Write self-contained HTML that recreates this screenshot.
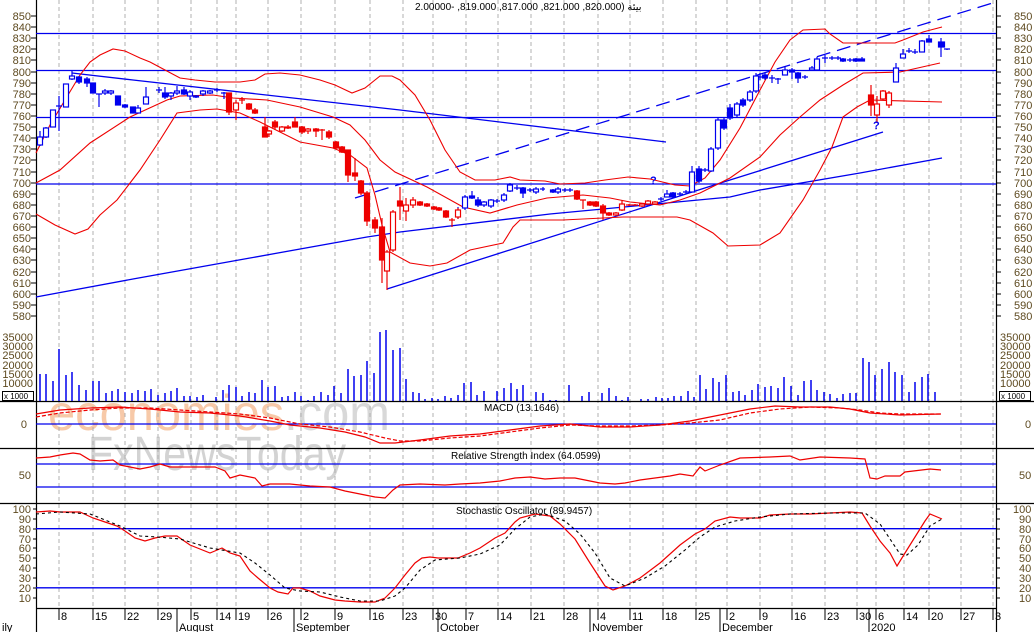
<!DOCTYPE html>
<html><head><meta charset="utf-8"><style>
html,body{margin:0;padding:0;background:#fff;}
svg{display:block;font-family:"Liberation Sans","DejaVu Sans",sans-serif;}
.ax{font-size:11px;fill:#5e4a20;}
.t{font-size:10px;fill:#000;}
</style></head><body>
<svg width="1034" height="632" viewBox="0 0 1034 632" xmlns="http://www.w3.org/2000/svg">
<rect width="1034" height="632" fill="#fff"/>
<!-- watermark -->
<text x="48" y="430" font-size="50" textLength="342" lengthAdjust="spacingAndGlyphs" fill="#f7c9a8"><tspan>economies</tspan><tspan fill="#d8d8d8">.com</tspan></text>
<text x="88" y="470" font-size="48" textLength="258" lengthAdjust="spacingAndGlyphs" fill="#d3d3d3">FxNewsToday</text>
<!-- grid -->
<g stroke="#b0b0b0" stroke-dasharray="4,3" stroke-width="1">
<path d="M59 0V609M93 0V609M125 0V609M158 0V609M191 0V609M217 0V609M236 0V609M268 0V609M301 0V609M335 0V609M370 0V609M403 0V609M433 0V609M466 0V609M498 0V609M531 0V609M564 0V609M598 0V609M630 0V609M663 0V609M696 0V609M727 0V609M760 0V609M792 0V609M825 0V609M857 0V609M876 0V609M904 0V609M929 0V609M961 0V609M993 0V609"/>
</g>
<!-- panel separators -->
<g stroke="#000" stroke-width="1.2">
<path d="M0 401.5H1034M0 448.5H1034M0 503.5H1034M36 608.5H996M36.5 0V632M996.5 0V632"/>
</g>
<!-- horizontal blue lines price -->
<g stroke="#0000ee" stroke-width="1.3" fill="none">
<path d="M36 33.5H996M36 70.5H996M36 117.5H996M36 184H996"/>
<path d="M36 424H996M36 464H996M36 487H996M36 528.7H996M36 587.8H996"/>
<polyline points="72,73 133,80 400,110 666,142"/>
<polyline points="36,297 133,279 250,258 367,237 400,232 550,214 730,197 760,190 860,173 942,158"/>
<polyline points="387,289 730,180 883,132"/>
<line x1="355" y1="198" x2="996" y2="2" stroke-dasharray="14,7"/>
</g>
<!-- bollinger -->
<g stroke="#ee0000" stroke-width="1.1" fill="none">
<polyline points="36,153 50,125 65,100 80,75 90,62 100,55 113,49 125,51 140,58 150,62 165,70 180,78 195,80 215,82 240,82 255,80 265,74 280,73 300,75 320,80 335,85 352,93 365,88 380,76 392,76 400,80 415,95 430,120 445,150 460,172 475,180 495,180 510,177 520,180 545,181 560,184 585,183 605,180 628,177 650,179 675,185 690,186 705,178 720,160 740,128 760,90 775,62 790,40 803,30 825,29 830,34 843,43 895,43 903,40 923,32 942,27"/>
<polyline points="36,183 60,170 90,143 130,117 167,100 180,96 213,95 233,98 267,100 300,107 333,117 350,125 365,140 380,160 395,172 427,187 463,207 490,213 517,205 547,198 583,195 610,198 630,202 660,205 680,200 700,193 730,178 760,157 780,135 800,117 820,100 843,85 863,73 900,72 940,63"/>
<polyline points="36,214 55,225 75,234 88,229 100,215 117,200 140,170 160,140 177,113 200,110 217,109 240,113 260,122 300,142 333,148 350,155 367,168 375,195 382,225 390,252 410,263 430,266 447,263 470,250 503,243 513,227 520,220 563,220 623,217 677,217 690,220 713,233 728,246 760,245 780,233 803,200 820,170 832,147 843,117 857,107 870,100 942,102"/>
</g>
<!-- blue candles -->
<g stroke="#0000ee" stroke-width="1.2">
<path d="M40 131V146M46 127V138M53 110V127M59 96V131M66 84V107M72 71V80M79 76V84M87 77V87M93 83V93M99 94V107M105 89V95M111 90V95M118 96V105M125 104V108M133 107V113M138 105V113M146 87V104M159 87V93M165 87V99M171 92V100M177 86V95M184 87V95M190 90V100M196 95V98M203 90V96M210 90V94M217 88V92M224 92V99M458 207V219M465 195V210M472 191V199M478 197V207M484 201V207M491 199V208M497 199V203M504 193V202M510 183V192M517 185V190M523 187V198M530 188V192M536 187V194M543 187V191M553 189V193M558 187V194M565 188V192M570 188V192M661 197V201M667 190V197M673 192V198M680 192V196M686 190V194M692 166V192M699 166V183M705 168V172M711 147V172M718 118V150M724 118V130M730 104V120M737 102V117M743 98V107M750 90V102M756 73V93M760 73V80M765 73V80M772 75V83M778 78V84M785 66V75M792 68V79M798 72V83M805 75V79M812 66V71M817 57V70M825 55V63M832 56V60M838 56V60M843 58V62M850 58V62M856 58V62M862 57V61M896 63V82M903 49V58M909 48V53M915 49V54M922 40V52M929 35V42M941 38V57M947 49V50"/>
<path d="M56 106H62M96 94H102M156 90H162M214 90H220M221 93H227M494 201H500M514 188H520M527 190H533M540 189H545M562 190H568M567 190H573M658 199H664M677 194H683M683 192H689M702 170H708M757 77H763M769 78H775M775 79H781M802 77H808M822 58H828M829 58H835M835 58H841M847 60H853M906 51H912M912 52H918M944 49H950"/>
<g fill="#fff">
<rect x="37.5" y="137" width="5" height="8"/><rect x="43.5" y="128" width="5" height="9"/><rect x="50.5" y="110" width="5" height="17"/><rect x="63.5" y="84" width="5" height="23"/><rect x="69.5" y="76" width="5" height="3"/><rect x="102.5" y="91" width="5" height="2"/><rect x="108.5" y="91" width="5" height="2"/><rect x="135.5" y="108" width="5" height="5"/><rect x="143.5" y="97" width="5" height="7"/><rect x="168.5" y="93" width="5" height="3"/><rect x="174.5" y="91" width="5" height="2"/><rect x="187.5" y="92" width="5" height="4"/><rect x="193.5" y="96" width="5" height="1"/><rect x="200.5" y="91" width="5" height="3"/><rect x="207.5" y="91" width="5" height="2"/>
<rect x="462.5" y="197" width="5" height="11"/><rect x="481.5" y="202" width="5" height="3"/><rect x="488.5" y="200" width="5" height="6"/><rect x="501.5" y="195" width="5" height="5"/><rect x="507.5" y="185" width="5" height="6"/><rect x="533.5" y="189" width="5" height="3"/><rect x="555.5" y="189" width="5" height="3"/><rect x="664.5" y="194" width="5" height="3"/><rect x="689.5" y="172" width="5" height="20"/><rect x="708.5" y="149" width="5" height="22"/><rect x="715.5" y="120" width="5" height="28"/><rect x="734.5" y="104" width="5" height="11"/><rect x="747.5" y="92" width="5" height="8"/><rect x="753.5" y="76" width="5" height="15"/><rect x="782.5" y="70" width="5" height="5"/><rect x="809.5" y="68" width="5" height="2"/><rect x="814.5" y="59" width="5" height="11"/><rect x="893.5" y="68" width="5" height="14"/><rect x="900.5" y="54" width="5" height="4"/><rect x="919.5" y="41" width="5" height="11"/>
</g>
<g fill="#0000ee">
<rect x="76.5" y="77" width="5" height="5"/><rect x="84.5" y="79" width="5" height="4"/><rect x="90.5" y="83" width="5" height="10"/><rect x="115.5" y="96" width="5" height="9"/><rect x="122.5" y="105" width="5" height="2"/><rect x="130.5" y="107" width="5" height="6"/><rect x="162.5" y="93" width="5" height="4"/><rect x="181.5" y="90" width="5" height="4"/>
<rect x="469.5" y="196" width="5" height="2"/><rect x="475.5" y="200" width="5" height="5"/><rect x="520.5" y="188" width="5" height="5"/><rect x="550.5" y="190" width="5" height="2"/><rect x="670.5" y="193" width="5" height="4"/><rect x="696.5" y="169" width="5" height="12"/><rect x="721.5" y="120" width="5" height="8"/><rect x="727.5" y="108" width="5" height="10"/><rect x="740.5" y="100" width="5" height="5"/><rect x="762.5" y="75" width="5" height="3"/><rect x="789.5" y="70" width="5" height="2"/><rect x="795.5" y="73" width="5" height="5"/><rect x="840.5" y="59" width="5" height="2"/><rect x="853.5" y="59" width="5" height="2"/><rect x="859.5" y="59" width="5" height="2"/><rect x="926.5" y="39" width="5" height="3"/><rect x="938.5" y="42" width="6" height="5"/>
</g>
</g>
<!-- red candles -->
<g stroke="#ee0000" stroke-width="1.2">
<path d="M229 93V115M236 100V120M242 97V104M249 103V110M255 108V114M265 117V137M269 130V137M275 120V130M282 126V132M288 125V129M295 117V127M302 126V134M308 128V134M316 128V137M322 129V140M329 130V139M336 141V149M342 146V153M348 150V182M355 158V181M361 180V195M367 191V226M375 217V233M382 218V283M387 250V290M393 210V252M400 187V220M406 198V221M413 197V208M420 201V206M427 203V207M434 206V210M439 207V211M446 210V218M452 218V227M458 208V219M577 190V200M583 200V209M590 201V206M596 201V207M603 204V220M609 212V216M616 212V216M622 200V211M629 204V206M635 204V206M642 203V207M648 200V205M655 201V205M871 85V116M877 96V123M883 90V100M889 91V108"/>
<path d="M239 100H245M319 130H325M449 220H455M580 200H586M626 205H632M632 205H638"/>
<g fill="#ee0000">
<rect x="226.5" y="93" width="5" height="19"/><rect x="246.5" y="104" width="5" height="5"/><rect x="252.5" y="110" width="5" height="3"/><rect x="262.5" y="127" width="5" height="10"/><rect x="272.5" y="122" width="5" height="5"/><rect x="285.5" y="127" width="5" height="1"/><rect x="292.5" y="122" width="5" height="5"/><rect x="299.5" y="127" width="5" height="5"/><rect x="313.5" y="129" width="5" height="2"/><rect x="326.5" y="132" width="5" height="5"/><rect x="333.5" y="142" width="5" height="6"/><rect x="339.5" y="147" width="5" height="5"/><rect x="345.5" y="150" width="5" height="25"/><rect x="352.5" y="173" width="5" height="3"/><rect x="358.5" y="181" width="5" height="12"/><rect x="364.5" y="193" width="5" height="28"/><rect x="372.5" y="220" width="5" height="8"/><rect x="379.5" y="227" width="5" height="33"/><rect x="397.5" y="201" width="5" height="5"/><rect x="417.5" y="202" width="5" height="3"/><rect x="424.5" y="204" width="5" height="2"/><rect x="431.5" y="207" width="5" height="2"/><rect x="436.5" y="208" width="5" height="2"/><rect x="443.5" y="211" width="5" height="6"/><rect x="574.5" y="191" width="5" height="8"/><rect x="587.5" y="202" width="5" height="3"/><rect x="593.5" y="202" width="5" height="4"/><rect x="600.5" y="206" width="5" height="7"/><rect x="606.5" y="213" width="5" height="2"/><rect x="868.5" y="95" width="5" height="10"/>
</g>
<g fill="#fff">
<rect x="233.5" y="103" width="5" height="7"/><rect x="266.5" y="131" width="5" height="3"/><rect x="279.5" y="127" width="5" height="4"/><rect x="305.5" y="129" width="5" height="2"/><rect x="384.5" y="252" width="5" height="19"/><rect x="390.5" y="212" width="5" height="38"/><rect x="403.5" y="205" width="5" height="6"/><rect x="410.5" y="200" width="5" height="5"/><rect x="455.5" y="210" width="5" height="7"/><rect x="613.5" y="213" width="5" height="2"/><rect x="619.5" y="204" width="5" height="6"/><rect x="639.5" y="204" width="5" height="2"/><rect x="645.5" y="201" width="5" height="3"/><rect x="652.5" y="202" width="5" height="2"/><rect x="874.5" y="104" width="5" height="11"/><rect x="880.5" y="91" width="5" height="8"/><rect x="886.5" y="93" width="5" height="12"/>
</g>
</g>
<text x="650" y="184" font-size="11" font-weight="bold" fill="#0000ee">?</text>
<text x="873" y="129" font-size="11" font-weight="bold" fill="#0000ee">?</text>
<!-- volume -->
<path stroke="#0000ee" stroke-width="1.5" d="M40 401V374M46 401V374M53 401V381M59 401V349M66 401V375M72 401V372M79 401V385M86 401V390M93 401V381M99 401V381M106 401V393M112 401V391M118 401V389M125 401V392M132 401V393M138 401V390M145 401V391M151 401V389M158 401V395M165 401V393M171 401V391M177 401V388M184 401V396M190 401V396M197 401V397M203 401V395M216 401V397M223 401V390M229 401V385M236 401V387M242 401V396M249 401V392M255 401V393M262 401V380M268 401V387M275 401V386M282 401V397M288 401V396M295 401V392M301 401V396M308 401V400M314 401V396M321 401V392M328 401V395M334 401V386M341 401V393M348 401V369M354 401V376M361 401V375M367 401V361M374 401V373M380 401V332M386 401V330M393 401V350M400 401V348M406 401V379M413 401V392M419 401V393M425 401V399M432 401V398M438 401V399M445 401V396M451 401V398M458 401V395M464 401V383M471 401V382M477 401V395M484 401V391M497 401V391M504 401V388M511 401V383M517 401V389M523 401V385M536 401V392M543 401V393M550 401V400M556 401V400M569 401V385M582 401V396M589 401V392M602 401V393M609 401V388M616 401V396M622 401V400M628 401V397M641 401V399M648 401V399M656 401V397M662 401V398M668 401V398M674 401V396M681 401V396M688 401V391M694 401V397M700 401V375M706 401V389M713 401V378M719 401V382M726 401V375M733 401V392M739 401V391M745 401V395M752 401V390M758 401V384M765 401V387M771 401V386M778 401V388M784 401V377M791 401V386M798 401V395M804 401V381M811 401V380M817 401V390M824 401V392M830 401V394M837 401V398M843 401V394M850 401V393M856 401V393M863 401V358M869 401V362M875 401V375M882 401V369M889 401V362M895 401V372M902 401V375M909 401V392M915 401V382M922 401V377M928 401V374M935 401V392"/>
<!-- MACD -->
<g fill="none" stroke="#ee0000" stroke-width="1.2">
<polyline points="36,414 60,410 90,408 120,407 150,409 180,412 210,413 240,416 270,421 290,425 320,428 345,432 365,437 380,443 395,443 420,440 450,436 480,434 510,430 540,426 570,424 600,427 630,427 660,425 690,421 720,415 750,409 775,406 800,407 830,407 850,409 870,413 900,415 941,414"/>
<polyline stroke-dasharray="4,2" points="36,417 60,413 90,410 120,408 150,408 180,410 210,412 240,414 270,418 300,424 330,427 360,432 385,438 400,441 420,441 450,438 480,436 510,432 540,428 570,425 600,426 630,426 660,425 690,423 720,420 750,413 780,409 810,407 840,408 860,410 880,413 900,414 941,414"/>
<!-- RSI -->
<polyline points="36,458 50,457 60,455 73,453 80,454 90,460 100,461 113,460 120,465 130,467 140,469 150,467 160,464 170,467 190,467 215,467 225,471 230,478 240,475 255,478 262,486 270,484 290,484 310,486 330,487 345,491 360,494 375,497 385,498 393,490 400,485 420,484 445,485 460,484 480,483 500,481 515,478 530,477 545,479 560,478 575,478 590,481 600,483 615,484 625,483 640,480 655,478 670,476 680,474 693,476 700,467 705,471 720,465 740,458 770,457 790,456 800,460 820,457 850,458 865,459 870,478 877,479 885,476 900,476 905,472 930,469 941,470"/>
<!-- Stoch -->
<polyline points="36,512 50,511 60,512 80,512 93,518 105,522 117,526 125,531 135,538 145,541 155,538 165,536 177,536 190,545 210,553 222,548 230,553 240,556 250,571 258,578 270,588 278,592 288,594 293,588 300,588 310,591 320,596 335,600 345,601 360,602 375,602 385,598 395,588 405,575 415,563 422,558 430,557 438,558 458,558 470,553 480,548 495,538 505,533 515,522 520,518 535,514 550,516 560,524 575,539 590,563 605,586 613,590 625,586 640,578 660,563 680,545 695,534 705,529 715,521 730,517 740,518 760,518 770,515 790,514 810,514 830,513 850,512 862,513 870,526 880,541 890,553 897,566 905,553 915,537 925,521 930,514 942,519"/>
</g>
<polyline fill="none" stroke="#000" stroke-width="1.1" stroke-dasharray="3,3" points="36,514 60,512 90,514 120,526 140,536 158,537 180,539 210,548 240,553 255,563 270,575 285,588 300,591 320,592 340,597 360,601 380,601 395,596 405,588 420,570 435,560 460,558 480,554 500,545 515,529 530,517 545,514 565,521 580,534 595,553 610,578 625,586 645,578 665,566 685,550 700,537 715,527 735,521 760,517 790,514 830,513 865,513 880,524 890,539 900,554 907,555 918,545 930,526 942,519"/>
<!-- titles -->
<text x="415" y="10" class="t">2.00000- ,819.000 ,817.000 ,821.000 ,820.000) بيئة</text>
<text x="484" y="411" class="t">MACD (13.1646)</text>
<text x="451" y="459" class="t">Relative Strength Index (64.0599)</text>
<text x="456" y="514" class="t">Stochastic Oscillator (89.9457)</text>
<!-- axis ticks -->
<g stroke="#000" stroke-width="1">
<path d="M31 16H36M31 27H36M31 38H36M31 49H36M31 60H36M31 72H36M31 83H36M31 94H36M31 105H36M31 116H36M31 127H36M31 138H36M31 149H36M31 160H36M31 172H36M31 183H36M31 194H36M31 205H36M31 216H36M31 227H36M31 238H36M31 249H36M31 260H36M31 272H36M31 283H36M31 294H36M31 305H36M31 316H36"/>
<path d="M996 16H1001M996 27H1001M996 38H1001M996 49H1001M996 60H1001M996 72H1001M996 83H1001M996 94H1001M996 105H1001M996 116H1001M996 127H1001M996 138H1001M996 149H1001M996 160H1001M996 172H1001M996 183H1001M996 194H1001M996 205H1001M996 216H1001M996 227H1001M996 238H1001M996 249H1001M996 260H1001M996 272H1001M996 283H1001M996 294H1001M996 305H1001M996 316H1001"/>
<path d="M33 509H36M33 519H36M33 529H36M33 539H36M33 548H36M33 558H36M33 568H36M33 578H36M33 588H36M33 598H36M996 509H1000M996 519H1000M996 529H1000M996 539H1000M996 548H1000M996 558H1000M996 568H1000M996 578H1000M996 588H1000M996 598H1000"/>
<path d="M59 609V620M93 609V620M125 609V620M158 609V620M191 609V620M217 609V620M236 609V620M268 609V620M301 609V620M335 609V620M370 609V620M403 609V620M433 609V620M466 609V620M498 609V620M531 609V620M564 609V620M598 609V620M630 609V620M663 609V620M696 609V620M727 609V620M760 609V620M792 609V620M825 609V620M857 609V620M876 609V620M904 609V620M929 609V620M961 609V620M993 609V620"/>
<path d="M177 609V632M294 609V632M438 609V632M590 609V632M720 609V632M869 609V632"/>
</g>
<g class="ax" text-anchor="end">
<text x="31" y="20">850</text><text x="31" y="31">840</text><text x="31" y="42">830</text><text x="31" y="53">820</text><text x="31" y="64">810</text><text x="31" y="76">800</text><text x="31" y="87">790</text><text x="31" y="98">780</text><text x="31" y="109">770</text><text x="31" y="120">760</text><text x="31" y="131">750</text><text x="31" y="142">740</text><text x="31" y="153">730</text><text x="31" y="164">720</text><text x="31" y="176">710</text><text x="31" y="187">700</text><text x="31" y="198">690</text><text x="31" y="209">680</text><text x="31" y="220">670</text><text x="31" y="231">660</text><text x="31" y="242">650</text><text x="31" y="253">640</text><text x="31" y="264">630</text><text x="31" y="276">620</text><text x="31" y="287">610</text><text x="31" y="298">600</text><text x="31" y="309">590</text><text x="31" y="320">580</text>
<text x="33" y="341">35000</text><text x="33" y="350">30000</text><text x="33" y="359">25000</text><text x="33" y="369">20000</text><text x="33" y="378">15000</text><text x="33" y="387">10000</text>
<text x="27" y="428">0</text><text x="31" y="479">50</text>
<text x="31" y="513">100</text><text x="31" y="523">90</text><text x="31" y="533">80</text><text x="31" y="543">70</text><text x="31" y="552">60</text><text x="31" y="562">50</text><text x="31" y="572">40</text><text x="31" y="582">30</text><text x="31" y="592">20</text><text x="31" y="602">10</text>
</g>
<g class="ax">
<text x="1014" y="20">850</text><text x="1014" y="31">840</text><text x="1014" y="42">830</text><text x="1014" y="53">820</text><text x="1014" y="64">810</text><text x="1014" y="76">800</text><text x="1014" y="87">790</text><text x="1014" y="98">780</text><text x="1014" y="109">770</text><text x="1014" y="120">760</text><text x="1014" y="131">750</text><text x="1014" y="142">740</text><text x="1014" y="153">730</text><text x="1014" y="164">720</text><text x="1014" y="176">710</text><text x="1014" y="187">700</text><text x="1014" y="198">690</text><text x="1014" y="209">680</text><text x="1014" y="220">670</text><text x="1014" y="231">660</text><text x="1014" y="242">650</text><text x="1014" y="253">640</text><text x="1014" y="264">630</text><text x="1014" y="276">620</text><text x="1014" y="287">610</text><text x="1014" y="298">600</text><text x="1014" y="309">590</text><text x="1014" y="320">580</text>
<text x="1000" y="341">35000</text><text x="1000" y="350">30000</text><text x="1000" y="359">25000</text><text x="1000" y="369">20000</text><text x="1000" y="378">15000</text><text x="1000" y="387">10000</text>
<text x="1025" y="428">0</text><text x="1019" y="479">50</text>
<text x="1013" y="513">100</text><text x="1019" y="523">90</text><text x="1019" y="533">80</text><text x="1019" y="543">70</text><text x="1019" y="552">60</text><text x="1019" y="562">50</text><text x="1019" y="572">40</text><text x="1019" y="582">30</text><text x="1019" y="592">20</text><text x="1019" y="602">10</text>
</g>
<rect x="2.5" y="391.5" width="31" height="9" fill="#fff" stroke="#000"/>
<text x="4" y="399" font-size="8" fill="#000">x 1000</text>
<rect x="999.5" y="391.5" width="31" height="9" fill="#fff" stroke="#000"/>
<text x="1001" y="399" font-size="8" fill="#000">x 1000</text>
<!-- dates -->
<g font-size="11" fill="#000">
<text x="61" y="620">8</text><text x="95" y="620">15</text><text x="127" y="620">22</text><text x="160" y="620">29</text><text x="193" y="620">5</text><text x="219" y="620">14</text><text x="238" y="620">19</text><text x="270" y="620">26</text><text x="303" y="620">2</text><text x="337" y="620">9</text><text x="372" y="620">16</text><text x="405" y="620">23</text><text x="435" y="620">30</text><text x="468" y="620">7</text><text x="500" y="620">14</text><text x="533" y="620">21</text><text x="566" y="620">28</text><text x="600" y="620">4</text><text x="632" y="620">11</text><text x="665" y="620">18</text><text x="698" y="620">25</text><text x="729" y="620">2</text><text x="762" y="620">9</text><text x="794" y="620">16</text><text x="827" y="620">23</text><text x="859" y="620">30</text><text x="878" y="620">6</text><text x="906" y="620">14</text><text x="931" y="620">20</text><text x="963" y="620">27</text><text x="995" y="620">3</text>
<text x="2" y="631">ily</text><text x="179" y="631">August</text><text x="296" y="631">September</text><text x="440" y="631">October</text><text x="592" y="631">November</text><text x="722" y="631">December</text><text x="871" y="631">2020</text>
</g>
</svg>
</body></html>
